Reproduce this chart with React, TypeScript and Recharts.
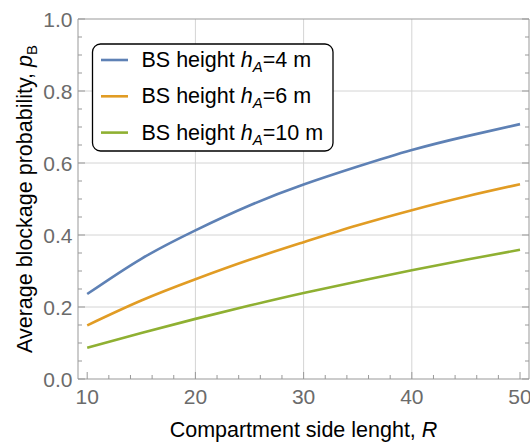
import { LineChart, Line, XAxis, YAxis, ReferenceLine } from 'recharts'

// compartment side length R
const radii = [10, 15, 20, 25, 30, 35, 40, 45, 50]
// average blockage probability p_B for each BS height
const pbH4 = [0.236, 0.334, 0.413, 0.482, 0.54, 0.59, 0.636, 0.674, 0.708]
const pbH6 = [0.149, 0.218, 0.277, 0.331, 0.38, 0.427, 0.469, 0.507, 0.541]
const pbH10 = [0.087, 0.128, 0.167, 0.204, 0.239, 0.271, 0.302, 0.331, 0.359]

const xMajor = [10, 20, 30, 40, 50]
const xTicks = [10, 12, 14, 16, 18, 20, 22, 24, 26, 28, 30, 32, 34, 36, 38, 40, 42, 44, 46, 48, 50]
const yMajor = [0, 0.2, 0.4, 0.6, 0.8, 1]
const yTicks = [
  0, 0.05, 0.1, 0.15, 0.2, 0.25, 0.3, 0.35, 0.4, 0.45, 0.5, 0.55, 0.6, 0.65, 0.7, 0.75, 0.8, 0.85,
  0.9, 0.95, 1,
]
const xGrid = [20, 30, 40]
const yGrid = [0.2, 0.4, 0.6, 0.8]

const series = [
  { key: 'h4', label: '4 m', color: '#5e81b5' },
  { key: 'h6', label: '6 m', color: '#e19c24' },
  { key: 'h10', label: '10 m', color: '#8fb032' },
]

const data = radii.map((r, i) => ({ r, h4: pbH4[i], h6: pbH6[i], h10: pbH10[i] }))

const FONT = '"Liberation Sans", Arial, sans-serif'
const FRAME = '#999999'
const TICK_TEXT = '#6b6b6b'

const isMajor = (list: number[], v: number) => list.some((m) => Math.abs(m - v) < 1e-6)

const makeTick = (side: 'bottom' | 'top' | 'left' | 'right') => (props: any) => {
  const { x, y, payload } = props
  const v = payload.value
  const major = side === 'bottom' || side === 'top' ? isMajor(xMajor, v) : isMajor(yMajor, v)
  const len = major ? 7 : 4
  let line
  if (side === 'bottom') line = <line x1={x} y1={y} x2={x} y2={y - len} />
  else if (side === 'top') line = <line x1={x} y1={y} x2={x} y2={y + len} />
  else if (side === 'left') line = <line x1={x} y1={y} x2={x + len} y2={y} />
  else line = <line x1={x} y1={y} x2={x - len} y2={y} />
  return (
    <g>
      <g stroke={FRAME} strokeWidth={1}>{line}</g>
      {major && side === 'bottom' && (
        <text x={x} y={y + 24.5} textAnchor="middle" fill={TICK_TEXT} fontSize={21} fontFamily={FONT}>
          {v}
        </text>
      )}
      {major && side === 'left' && (
        <text x={x - 5.5} y={y + 7.5} textAnchor="end" fill={TICK_TEXT} fontSize={21} fontFamily={FONT}>
          {v.toFixed(1)}
        </text>
      )}
    </g>
  )
}

export default function App() {
  return (
    <div style={{ position: 'relative', width: 530, height: 444, background: '#fff' }}>
      <style>{'body{margin:0}'}</style>
      <LineChart width={530} height={444} data={data} margin={{ top: 0, right: 0, left: 0, bottom: 0 }}>
        <XAxis
          dataKey="r"
          type="number"
          domain={[9.15, 50.83]}
          allowDataOverflow
          ticks={xTicks}
          interval={0}
          height={65}
          tickSize={0}
          tickMargin={0}
          tick={makeTick('bottom')}
          axisLine={{ stroke: FRAME }}
        />
        <XAxis
          xAxisId="top"
          orientation="top"
          type="number"
          domain={[9.15, 50.83]}
          allowDataOverflow
          ticks={xTicks}
          interval={0}
          height={19}
          tickSize={0}
          tickMargin={0}
          tick={makeTick('top')}
          axisLine={{ stroke: FRAME }}
        />
        <YAxis
          type="number"
          domain={[0, 1]}
          allowDataOverflow
          ticks={yTicks}
          interval={0}
          width={78}
          tickSize={0}
          tickMargin={0}
          tick={makeTick('left')}
          axisLine={{ stroke: FRAME }}
        />
        <YAxis
          yAxisId="right"
          orientation="right"
          type="number"
          domain={[0, 1]}
          allowDataOverflow
          ticks={yTicks}
          interval={0}
          width={1}
          tickSize={0}
          tickMargin={0}
          tick={makeTick('right')}
          axisLine={{ stroke: FRAME }}
        />
        {xGrid.map((v) => (
          <ReferenceLine key={'x' + v} x={v} stroke="#d4d4d4" strokeWidth={1} />
        ))}
        {yGrid.map((v) => (
          <ReferenceLine key={'y' + v} y={v} stroke="#d4d4d4" strokeWidth={1} />
        ))}
        {series.map((s) => (
          <Line
            key={s.key}
            type="natural"
            dataKey={s.key}
            stroke={s.color}
            strokeWidth={2.6}
            dot={false}
            isAnimationActive={false}
          />
        ))}
      </LineChart>
      <svg
        width={530}
        height={444}
        style={{ position: 'absolute', left: 0, top: 0, pointerEvents: 'none' }}
        fontFamily={FONT}
      >
        <rect x={92.5} y={44} width={240.5} height={107} rx={8} fill="#fff" stroke="#000" strokeWidth={1.3} />
        {series.map((s, i) => (
          <g key={s.key}>
            <line x1={101} x2={128} y1={60 + i * 36.3} y2={60 + i * 36.3} stroke={s.color} strokeWidth={2.6} />
            <text x={141.5} y={67 + i * 36.3} fontSize={21.5} fill="#000">
              BS height{' '}
              <tspan fontStyle="italic">h</tspan>
              <tspan fontStyle="italic" fontSize={15} dy={5}>
                A
              </tspan>
              <tspan dy={-5}>={s.label}</tspan>
            </text>
          </g>
        ))}
        <text x={303.5} y={437} textAnchor="middle" fontSize={21.5} fill="#000">
          Compartment side lenght, <tspan fontStyle="italic">R</tspan>
        </text>
        <text x={31.5} y={199} textAnchor="middle" fontSize={21.5} fill="#000" transform="rotate(-90 31.5 199)">
          Average blockage probability,{' '}
          <tspan fontStyle="italic">p</tspan>
          <tspan fontSize={15} dy={5}>
            B
          </tspan>
        </text>
      </svg>
    </div>
  )
}
